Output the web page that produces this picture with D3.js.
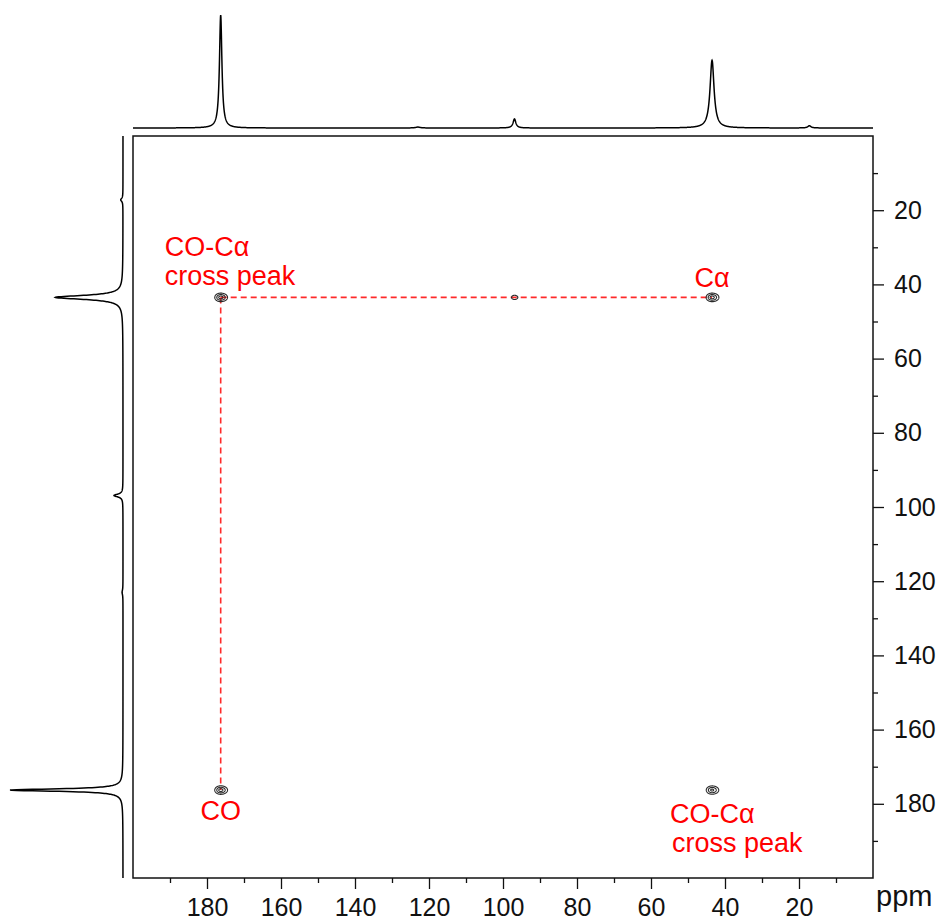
<!DOCTYPE html>
<html>
<head>
<meta charset="utf-8">
<script src="https://cdn.jsdelivr.net/npm/d3@7"></script>
<style>
  body { margin: 0; background: #fff; }
  svg { display: block; }
</style>
</head>
<body>
<script>
// 1D projection peaks: chemical shift (ppm), relative height, full width at half height (ppm)
const peakShift  = [176.3, 123.0, 96.9, 43.5, 17.2];
const peakHeight = [1.0, 0.008, 0.08, 0.60, 0.02];
const peakWidth  = [0.8, 1.5, 0.9, 1.3, 1.0];

// 2D correlation peaks: F2 shift, F1 shift, relative intensity
const crossF2  = [176.3, 43.5, 176.3, 43.5, 96.9];
const crossF1  = [176.3, 43.5, 43.5, 176.3, 43.5];
const crossAmp = [1.0, 1.0, 1.0, 0.9, 0.2];
const contourLevels = [0.12, 0.4, 0.8];

// axis ticks (ppm)
const majorTicks = [180, 160, 140, 120, 100, 80, 60, 40, 20];
const minorTicks = [190, 170, 150, 130, 110, 90, 70, 50, 30, 10];

// assignments
const labelDiagCO = "CO";
const labelDiagCA = "Cα";
const labelCross = ["CO-Cα", "cross peak"];

const W = 941, H = 922;
const svg = d3.select("body").append("svg").attr("width", W).attr("height", H);

const box = { left: 133, right: 873, top: 136, bottom: 878 };
const x = d3.scaleLinear().domain([200, 0]).range([box.left, box.right]);
const y = d3.scaleLinear().domain([0, 200]).range([box.top, box.bottom]);

// intensity scales of the two projections
const topI  = d3.scaleLinear().domain([0, 1]).range([128, 15]);
const leftI = d3.scaleLinear().domain([0, 1]).range([123, 10]);

const font = "'Liberation Sans', Arial, Helvetica, sans-serif";

// Lorentzian line shape summed over the peak list
function spectrum(ppm) {
  let s = 0;
  for (let k = 0; k < peakShift.length; k++) {
    const hw = peakWidth[k] / 2;
    const d = (ppm - peakShift[k]) / hw;
    s += peakHeight[k] / (1 + d * d);
  }
  return s;
}
const grid = d3.range(0, 200.0001, 0.05);
const spec = grid.map(p => ({ p, v: spectrum(p) }));

// top projection (F2)
svg.append("path")
  .datum(spec)
  .attr("fill", "none")
  .attr("stroke", "#000")
  .attr("stroke-width", 1.5)
  .attr("d", d3.line().x(d => x(d.p)).y(d => topI(d.v)));

// left projection (F1)
svg.append("path")
  .datum(spec)
  .attr("fill", "none")
  .attr("stroke", "#000")
  .attr("stroke-width", 1.5)
  .attr("d", d3.line().x(d => leftI(d.v)).y(d => y(d.p)));

// frame
svg.append("rect")
  .attr("x", box.left).attr("y", box.top)
  .attr("width", box.right - box.left).attr("height", box.bottom - box.top)
  .attr("fill", "none").attr("stroke", "#111").attr("stroke-width", 1.5);

// axes
function styleAxis(g) {
  g.select(".domain").remove();
  g.selectAll("line").attr("stroke", "#111").attr("stroke-width", 1.3);
  g.selectAll("text").attr("font-family", font).attr("font-size", 25).attr("fill", "#111");
}
svg.append("g").attr("transform", `translate(0,${box.bottom})`)
  .call(d3.axisBottom(x).tickValues(majorTicks).tickSize(11).tickPadding(9).tickFormat(d3.format("d")))
  .call(styleAxis);
svg.append("g").attr("transform", `translate(0,${box.bottom})`)
  .call(d3.axisBottom(x).tickValues(minorTicks).tickSize(5).tickFormat(""))
  .call(styleAxis);
svg.append("g").attr("transform", `translate(${box.right},0)`)
  .call(d3.axisRight(y).tickValues(majorTicks).tickSize(11).tickPadding(10).tickFormat(d3.format("d")))
  .call(styleAxis);
svg.append("g").attr("transform", `translate(${box.right},0)`)
  .call(d3.axisRight(y).tickValues(minorTicks).tickSize(5).tickFormat(""))
  .call(styleAxis);

svg.append("text")
  .attr("x", 876).attr("y", 906)
  .attr("font-family", font).attr("font-size", 29).attr("fill", "#111")
  .text("ppm");

// dashed guides linking the diagonal peaks through the cross peak
const guide = svg.append("g")
  .attr("stroke", "#ff2a2a").attr("stroke-width", 1.6)
  .attr("stroke-dasharray", "6,4").attr("fill", "none");
guide.append("line")
  .attr("x1", x(crossF2[2])).attr("x2", x(crossF2[1]))
  .attr("y1", y(crossF1[1])).attr("y2", y(crossF1[1]));
guide.append("line")
  .attr("x1", x(crossF2[0])).attr("x2", x(crossF2[0]))
  .attr("y1", y(crossF1[2])).attr("y2", y(crossF1[0]));

// contour plot: each peak is sampled on a fine local pixel grid and traced with d3.contours
const sigX = 0.78, sigY = 0.56; // ppm
const sub = 4, patchW = 40, patchH = 30;
const cg = svg.append("g").attr("fill", "none").attr("stroke", "#2a2a2a").attr("stroke-width", 1.1);
for (let k = 0; k < crossF2.length; k++) {
  const cx = x(crossF2[k]), cy = y(crossF1[k]);
  const x0 = cx - patchW / 2, y0 = cy - patchH / 2;
  const nx = patchW * sub, ny = patchH * sub;
  const values = new Float64Array(nx * ny);
  for (let j = 0; j < ny; j++) {
    const pY = y.invert(y0 + (j + 0.5) / sub);
    for (let i = 0; i < nx; i++) {
      const pX = x.invert(x0 + (i + 0.5) / sub);
      const dx = (pX - crossF2[k]) / sigX, dy = (pY - crossF1[k]) / sigY;
      // slight tail toward low ppm gives the teardrop outline
      const tail = pX < crossF2[k] ? 0.75 : 1.0;
      values[j * nx + i] = crossAmp[k] * Math.exp(-0.5 * (dx * dx * tail + dy * dy));
    }
  }
  const contours = d3.contours().size([nx, ny]).thresholds(contourLevels)(values);
  const proj = d3.geoTransform({
    point(px, py) { this.stream.point(x0 + px / sub, y0 + py / sub); }
  });
  cg.selectAll(null).data(contours).join("path").attr("d", d3.geoPath(proj));
}

// assignment labels
const lab = svg.append("g").attr("font-family", font).attr("font-size", 27).attr("fill", "#ff0000");
const t1 = lab.append("text").attr("x", x(crossF2[2]) - 56).attr("y", y(crossF1[2]) - 41);
t1.append("tspan").text(labelCross[0]);
t1.append("tspan").attr("x", x(crossF2[2]) - 56).attr("dy", 29).text(labelCross[1]);

lab.append("text").attr("x", x(crossF2[1])).attr("y", y(crossF1[1]) - 10)
  .attr("text-anchor", "middle").text(labelDiagCA);

lab.append("text").attr("x", x(crossF2[0])).attr("y", y(crossF1[0]) + 30)
  .attr("text-anchor", "middle").text(labelDiagCO);

const t2 = lab.append("text").attr("x", x(crossF2[3]) - 42).attr("y", y(crossF1[3]) + 33);
t2.append("tspan").text(labelCross[0]);
t2.append("tspan").attr("x", x(crossF2[3]) - 40).attr("dy", 29).text(labelCross[1]);
</script>
</body>
</html>
